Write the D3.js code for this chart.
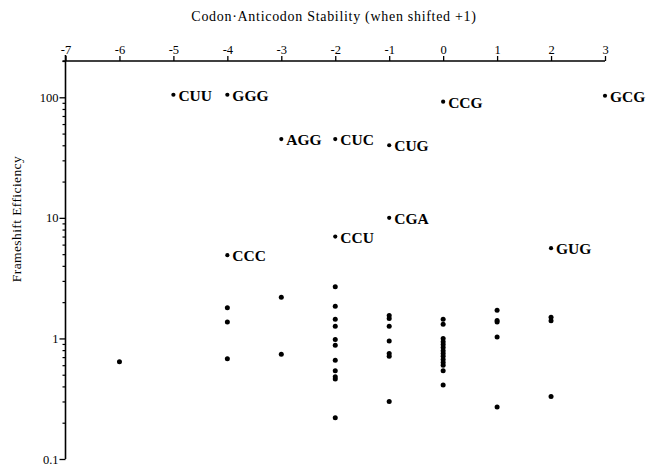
<!DOCTYPE html>
<html>
<head>
<meta charset="utf-8">
<script src="https://cdn.jsdelivr.net/npm/d3@7"></script>
<style>
  html, body { margin: 0; padding: 0; background: #fff; }
  svg { display: block; }
  text { font-family: "Liberation Serif", "DejaVu Serif", serif; fill: #000; }
</style>
</head>
<body>
<svg id="chart" width="646" height="468"></svg>
<script>
// ---- data ----
const xTicks = [-7, -6, -5, -4, -3, -2, -1, 0, 1, 2, 3];
const yMajorTicks = [0.1, 1, 10, 100];
const yTickLabels = ["0.1", "1", "10", "100"];

const labeledCodons     = ["CUU", "GGG", "AGG", "CUC", "CUG", "CCG", "GCG", "CGA", "CCU", "GUG", "CCC"];
const labeledStability  = [-5, -4, -3, -2, -1, 0, 3, -1, -2, 2, -4];
const labeledEfficiency = [105, 105, 45, 45, 40, 92, 103, 10, 7, 5.6, 4.9];

const otherStability = [
  -6,
  -4, -4, -4,
  -3, -3,
  -2, -2, -2, -2, -2, -2, -2, -2, -2, -2, -2,
  -1, -1, -1, -1, -1, -1, -1,
  0, 0, 0, 0, 0, 0, 0, 0, 0, 0, 0, 0, 0, 0,
  1, 1, 1, 1, 1,
  2, 2, 2
];
const otherEfficiency = [
  0.64,
  1.80, 1.37, 0.68,
  2.2, 0.74,
  2.68, 1.85, 1.44, 1.26, 0.98, 0.88, 0.66, 0.54, 0.48, 0.46, 0.22,
  1.55, 1.46, 1.26, 0.95, 0.75, 0.71, 0.30,
  1.44, 1.31, 1.0, 0.94, 0.89, 0.84, 0.79, 0.75, 0.71, 0.67, 0.63, 0.60, 0.54, 0.41,
  1.71, 1.41, 1.37, 1.03, 0.27,
  1.50, 1.40, 0.33
];

const xTitle = "Codon\u00B7Anticodon Stability (when shifted +1)";
const yTitle = "Frameshift Efficiency";

// ---- chart ----
const svg = d3.select("#chart");
const x = d3.scaleLinear().domain([-7, 3]).range([65.5, 605]);
const y = d3.scaleLog().domain([0.1, 200]).range([459, 61]);

// minor ticks
const minorTicks = [];
[0.1, 1, 10, 100].forEach(d => {
  for (let k = 2; k <= 9; k++) { const v = d * k; if (v <= 200) minorTicks.push(v); }
});

// x axis (top)
const xAxis = svg.append("g").attr("transform", `translate(0,${y(200)})`)
  .call(d3.axisTop(x).tickValues(xTicks).tickSize(5).tickSizeOuter(0)
    .tickFormat(d => d < 0 ? "-" + Math.abs(d) : String(d)));
xAxis.select(".domain").attr("stroke-width", 1.6).attr("d", `M${x(-7) - 3},0H${x(3)}`);
xAxis.selectAll(".tick line").attr("stroke-width", 1.3);
xAxis.selectAll(".tick text").attr("font-size", 12.5).attr("dy", "0.1em")
  .style("font-family", "'Liberation Serif', serif");

// y axis minor ticks
const yMinor = svg.append("g").attr("transform", `translate(${x(-7)},0)`)
  .call(d3.axisLeft(y).tickValues(minorTicks).tickSize(3).tickFormat(""));
yMinor.select(".domain").remove();
yMinor.selectAll(".tick line").attr("stroke-width", 1.2);

// y axis major
const yAxis = svg.append("g").attr("transform", `translate(${x(-7)},0)`)
  .call(d3.axisLeft(y).tickValues(yMajorTicks).tickSize(6).tickSizeOuter(0)
    .tickFormat((d, i) => yTickLabels[i]));
yAxis.select(".domain").attr("stroke-width", 1.6).attr("d", `M0,${y(200) - 6}V${y(0.1)}`);
yAxis.selectAll(".tick text").attr("font-size", 12.5).attr("x", -7)
  .style("font-family", "'Liberation Serif', serif");
yAxis.selectAll(".tick line").attr("stroke-width", 1.3);

// titles
svg.append("text").attr("x", 334).attr("y", 21).attr("text-anchor", "middle")
  .attr("font-size", 14).style("letter-spacing", "0.7px").text(xTitle);
svg.append("text").attr("transform", "translate(21,219) rotate(-90)")
  .attr("text-anchor", "middle").attr("font-size", 13.5).style("letter-spacing", "0.4px").text(yTitle);

// unlabeled points
svg.append("g").selectAll("circle").data(otherStability).join("circle")
  .attr("cx", (d, i) => x(d))
  .attr("cy", (d, i) => y(otherEfficiency[i]))
  .attr("r", 2.5).attr("fill", "#000");

// labeled points
const lab = svg.append("g").selectAll("g").data(labeledCodons).join("g")
  .attr("transform", (d, i) => `translate(${x(labeledStability[i])},${y(labeledEfficiency[i])})`);
lab.append("circle").attr("r", 2.1).attr("fill", "#000");
lab.append("text").attr("x", 5).attr("y", 6).attr("font-size", 15.5)
  .attr("font-weight", "bold").text(d => d);
</script>
</body>
</html>
